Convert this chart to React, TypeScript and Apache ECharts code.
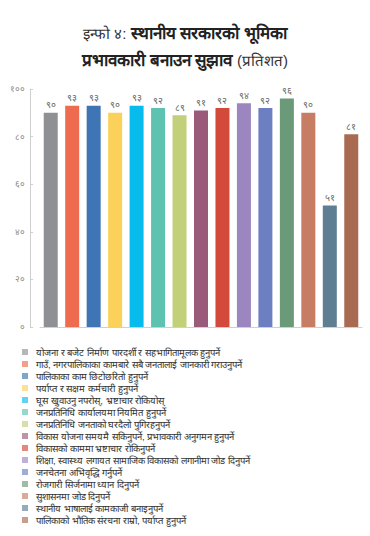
import React, { useEffect, useRef } from "react";
import * as echarts from "echarts";

const categories = [
  "योजना र बजेट निर्माण पारदर्शी र सहभागितामूलक हुनुपर्ने",
  "गाउँ, नगरपालिकाका कामबारे सबै जनतालाई जानकारी गराउनुपर्ने",
  "पालिकाका काम छिटोछरितो हुनुपर्ने",
  "पर्याप्त र सक्षम कर्मचारी हुनुपर्ने",
  "घूस खुवाउनु नपरोस्, भ्रष्टाचार रोकियोस्",
  "जनप्रतिनिधि कार्यालयमा नियमित हुनुपर्ने",
  "जनप्रतिनिधि जनताको घरदैलो पुगिरहनुपर्ने",
  "विकास योजना समयमै सकिनुपर्ने, प्रभावकारी अनुगमन हुनुपर्ने",
  "विकासको काममा भ्रष्टाचार रोकिनुपर्ने",
  "शिक्षा, स्वास्थ्य लगायत सामाजिक विकासको लगानीमा जोड दिनुपर्ने",
  "जनचेतना अभिवृद्धि गर्नुपर्ने",
  "रोजगारी सिर्जनामा ध्यान दिनुपर्ने",
  "सुशासनमा जोड दिनुपर्ने",
  "स्थानीय भाषालाई कामकाजी बनाइनुपर्ने",
  "पालिकाको भौतिक संरचना राम्रो, पर्याप्त हुनुपर्ने",
];

const values = [90, 93, 93, 90, 93, 92, 89, 91, 92, 94, 92, 96, 90, 51, 81];

const colors = [
  "#8E9094", "#EE6B50", "#3F75B4", "#FBD159", "#07BCEC",
  "#5DC3B0", "#C2D07A", "#9A5A7A", "#D3493A", "#9C86BF",
  "#6C7FC0", "#6A9A78", "#C77D63", "#5F7E92", "#A86B52",
];

const titleLine1Light = "इन्फो ४: ";
const titleLine1Bold = "स्थानीय सरकारको भूमिका";
const titleLine2Bold = "प्रभावकारी बनाउन सुझाव ";
const titleLine2Light = "(प्रतिशत)";

const devDigits = "०१२३४५६७८९";
const toDev = (n: number | string) =>
  String(n).replace(/[0-9]/g, (d) => devDigits[Number(d)]);

export default function App() {
  const ref = useRef<HTMLDivElement>(null);
  useEffect(() => {
    if (!ref.current) return;
    const chart = echarts.init(ref.current, null, { renderer: "svg" });
    const series = categories.map((name, i) => ({
      name,
      type: "bar",
      stack: "all",
      barWidth: 14,
      itemStyle: { color: colors[i] },
      label: {
        show: true,
        position: "top",
        distance: 3,
        color: "#666",
        fontSize: 9.5,
        formatter: (p: any) => toDev(p.value),
      },
      data: values.map((v, j) => (j === i ? v : null)),
    }));
    chart.setOption({
      animation: false,
      title: {
        left: "center",
        top: 15,
        text:
          "{l|" + titleLine1Light + "}{b|" + titleLine1Bold + "}\n{b|" + titleLine2Bold + "}{l|" + titleLine2Light + "}",
        textStyle: {
          rich: {
            l: { fontSize: 15, fontWeight: "normal", color: "#333", lineHeight: 27 },
            b: { fontSize: 17, fontWeight: "bold", color: "#222", lineHeight: 27 },
          },
        },
      },
      legend: {
        orient: "vertical",
        left: 17,
        top: 341,
        itemWidth: 6,
        itemHeight: 6,
        itemGap: 0,
        icon: "rect",
        textStyle: { fontSize: 9.5, color: "#333", lineHeight: 12, padding: [0, 0, 0, 3] },
        data: categories.map((name, i) => ({
          name,
          itemStyle: { color: colors[i], opacity: 0.65 },
        })),
      },
      grid: { left: 40, right: 8, top: 89, bottom: 209 },
      xAxis: {
        type: "category",
        data: categories,
        axisLine: { show: true, lineStyle: { color: "#cfcfcf" } },
        axisTick: { show: false },
        axisLabel: { show: false },
      },
      yAxis: {
        type: "value",
        min: 0,
        max: 100,
        interval: 20,
        offset: 10,
        axisLine: { show: true, lineStyle: { color: "#cfcfcf" } },
        axisTick: { show: true, inside: true, length: 3, lineStyle: { color: "#cfcfcf" } },
        splitLine: { show: false },
        axisLabel: {
          color: "#888",
          fontSize: 9,
          margin: 5,
          formatter: (v: number) => toDev(v),
        },
      },
      series,
    });
    return () => chart.dispose();
  }, []);
  return (
    <div
      ref={ref}
      style={{ position: "fixed", left: 0, top: 0, width: 370, height: 536, background: "#fff" }}
    />
  );
}
